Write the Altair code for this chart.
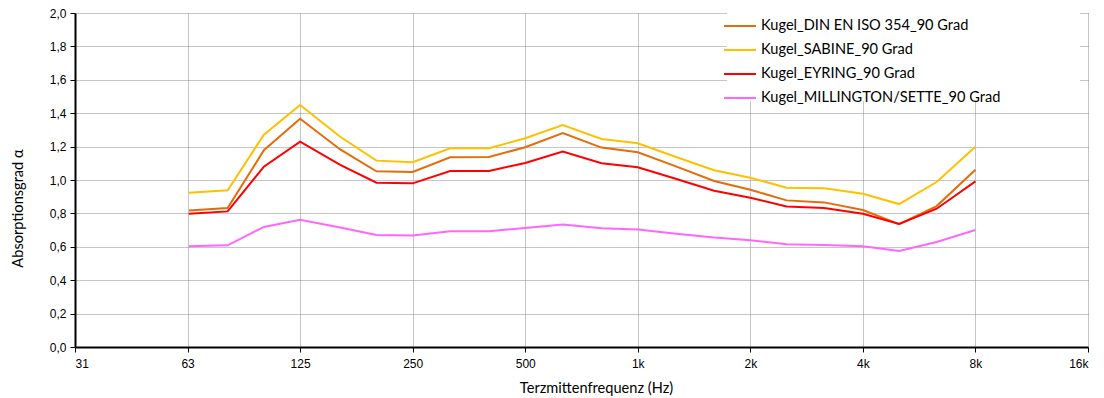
import altair as alt
import pandas as pd

freqs = [63, 80, 100, 125, 160, 200, 250, 315, 400, 500, 630, 800,
         1000, 1250, 1600, 2000, 2500, 3150, 4000, 5000, 6300, 8000]

din = [0.818, 0.832, 1.178, 1.367, 1.183, 1.052, 1.048, 1.136, 1.138, 1.196, 1.281, 1.194,
       1.166, 1.086, 0.994, 0.942, 0.878, 0.866, 0.820, 0.735, 0.844, 1.062]
sabine = [0.924, 0.938, 1.271, 1.449, 1.259, 1.116, 1.106, 1.190, 1.190, 1.250, 1.329, 1.246,
          1.220, 1.142, 1.058, 1.014, 0.954, 0.950, 0.918, 0.856, 0.988, 1.199]
eyring = [0.798, 0.812, 1.080, 1.229, 1.090, 0.984, 0.980, 1.054, 1.054, 1.102, 1.170, 1.100,
          1.076, 1.010, 0.936, 0.894, 0.842, 0.832, 0.798, 0.737, 0.828, 0.992]
millington = [0.603, 0.609, 0.719, 0.762, 0.715, 0.671, 0.667, 0.693, 0.693, 0.713, 0.733, 0.711,
              0.703, 0.679, 0.655, 0.639, 0.615, 0.611, 0.603, 0.575, 0.629, 0.701]

series_names = ["Kugel_DIN EN ISO 354_90 Grad", "Kugel_SABINE_90 Grad",
                "Kugel_EYRING_90 Grad", "Kugel_MILLINGTON/SETTE_90 Grad"]
series_colors = ["#E46C0A", "#FFC000", "#FF0000", "#FF66FF"]
series_values = [din, sabine, eyring, millington]

x_tick_values = [31.25, 62.5, 125, 250, 500, 1000, 2000, 4000, 8000, 16000]
x_tick_labels = ["31", "63", "125", "250", "500", "1k", "2k", "4k", "8k", "16k"]
y_tick_values = [0.0, 0.2, 0.4, 0.6, 0.8, 1.0, 1.2, 1.4, 1.6, 1.8, 2.0]

rows = []
for name, vals in zip(series_names, series_values):
    for f, v in zip(freqs, vals):
        rows.append({"Serie": name, "f": f, "alpha": v})
df = pd.DataFrame(rows)

label_expr = "[" + ",".join("'%s'" % l for l in x_tick_labels) + "][indexof([" + \
    ",".join(str(v) for v in x_tick_values) + "], datum.value)]"

chart = alt.Chart(df).mark_line(strokeWidth=2).encode(
    x=alt.X("f:Q",
            scale=alt.Scale(type="log", base=2, domain=[31.25, 16000], nice=False),
            axis=alt.Axis(values=x_tick_values, labelExpr=label_expr,
                          title="Terzmittenfrequenz (Hz)",
                          titleX=521, titleY=41, titleBaseline="middle",
                          titleAlign="center")),
    y=alt.Y("alpha:Q",
            scale=alt.Scale(domain=[0, 2], nice=False),
            axis=alt.Axis(values=y_tick_values,
                          labelExpr="replace(format(datum.value, '.1f'), '.', ',')",
                          title="Absorptionsgrad α",
                          titleX=-57, titleY=195, titleBaseline="middle",
                          titleAlign="center", titleAngle=-90)),
    color=alt.Color("Serie:N",
                    scale=alt.Scale(domain=series_names, range=series_colors),
                    legend=alt.Legend(title="\u00a0", titleOrient="right", titlePadding=84,
                                      orient="none", legendX=652, legendY=0,
                                      symbolType="stroke", symbolSize=1024,
                                      symbolStrokeWidth=2, rowPadding=-7.7,
                                      labelFont="Lato", labelFontSize=14.6,
                                      labelColor="#000000", labelOffset=4,
                                      fillColor="#ffffff", padding=-4,
                                      labelLimit=400)),
).properties(
    width=1013, height=334,
    autosize=alt.AutoSizeParams(type="none"),
    padding={"left": 67, "top": 5, "right": 8, "bottom": 51},
).configure_view(
    stroke=None
).configure_axis(
    domainColor="#000000", domainWidth=2,
    tickColor="#000000", tickSize=5, tickWidth=1,
    labelFont="Liberation Sans", labelFontSize=12, labelColor="#000000",
    titleFont="Lato", titleFontSize=14.6, titleFontWeight="normal", titleColor="#000000",
    gridColor="#8c8c8c", gridDash=[1, 1], gridWidth=1,
    labelPadding=4,
).configure_axisX(
    labelPadding=6,
)

chart.save("out.html", embed_options={"renderer": "svg", "actions": False})
